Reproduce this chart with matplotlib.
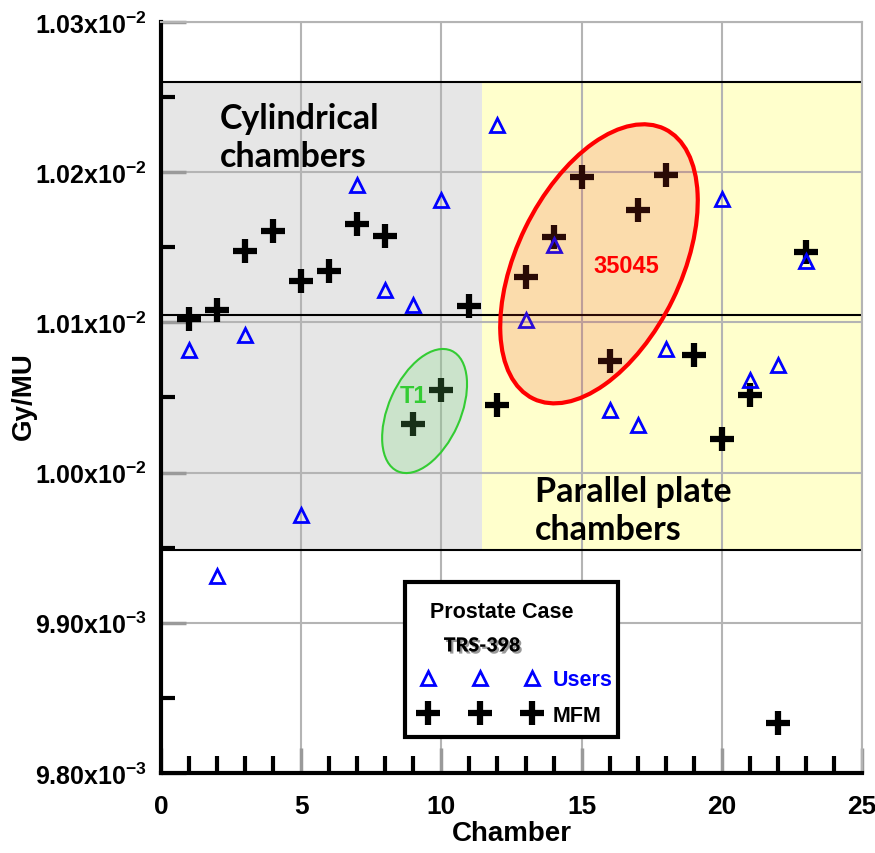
import matplotlib
matplotlib.use('Agg')
import matplotlib.pyplot as plt
from matplotlib.patches import Ellipse, Rectangle
from matplotlib.lines import Line2D
from matplotlib.transforms import Affine2D
import matplotlib.patheffects as pe

plt.rcParams['mathtext.default'] = 'regular'

# data
mfm_chamber = list(range(1, 24))
mfm_dose = [0.0101023, 0.0101080, 0.0101475, 0.0101609, 0.0101276, 0.0101342,
            0.0101655, 0.0101575, 0.0100324, 0.0100550, 0.0101109, 0.0100450,
            0.0101302, 0.0101569, 0.0101968, 0.0100743, 0.0101748, 0.0101981,
            0.0100783, 0.0100224, 0.0100517, 0.0098333, 0.0101469]

users_chamber = [1, 2, 3, 5, 7, 8, 9, 10, 12, 13, 14, 16, 17, 18, 20, 21, 22, 23]
users_dose = [0.0100816, 0.0099312, 0.0100916, 0.0099718, 0.0101915, 0.0101216,
              0.0101116, 0.0101815, 0.0102314, 0.0101016, 0.0101515, 0.0100417,
              0.0100317, 0.0100823, 0.0101822, 0.0100617, 0.0100716, 0.0101409]

ref_lines = [0.0102600, 0.0101050, 0.0099485]
cyl_split = 11.45

yticks = [0.0098, 0.0099, 0.0100, 0.0101, 0.0102, 0.0103]
ytick_labels = ['9.80x10$^{-3}$', '9.90x10$^{-3}$', '1.00x10$^{-2}$',
                '1.01x10$^{-2}$', '1.02x10$^{-2}$', '1.03x10$^{-2}$']
xticks = [0, 5, 10, 15, 20, 25]

arial = ['Liberation Sans', 'DejaVu Sans']
calib = ['Lato', 'DejaVu Sans']

fig = plt.figure(figsize=(8.75, 8.54), dpi=100)
ax = fig.add_axes([161/875, 80/854, 701/875, 751/854])
ax.set_xlim(0, 25)
ax.set_ylim(0.0098, 0.0103)

# shaded bands
ax.fill_between([0, cyl_split], ref_lines[2], ref_lines[0], color='#e6e6e6', lw=0, zorder=0)
ax.fill_between([cyl_split, 25], ref_lines[2], ref_lines[0], color='#ffffcc', lw=0, zorder=0)

ax.set_xticks(xticks)
ax.set_xticks(range(0, 26), minor=True)
ax.set_yticks(yticks)
ax.set_yticks([0.00985, 0.00995, 0.01005, 0.01015, 0.01025], minor=True)
ax.set_yticklabels(ytick_labels, fontfamily=arial, fontweight='bold', fontsize=18)
ax.set_xticklabels([str(t) for t in xticks], fontfamily=arial, fontweight='bold', fontsize=19)
ax.grid(True, which='major', color='#b4b4b4', lw=1.5, zorder=1)
ax.set_axisbelow(True)
ax.tick_params(which='major', direction='in', length=18, width=2.5, color='#9a9a9a')
ax.tick_params(axis='x', which='major', pad=15)
ax.tick_params(axis='y', which='major', pad=10)
ax.tick_params(which='minor', direction='in', length=10, width=3, color='black')
ax.tick_params(axis='x', which='minor', length=12)

for s in ['left', 'bottom']:
    ax.spines[s].set_linewidth(3)
    ax.spines[s].set_color('black')
for s in ['top', 'right']:
    ax.spines[s].set_linewidth(1.5)
    ax.spines[s].set_color('#b4b4b4')

for y in ref_lines:
    ax.axhline(y, color='black', lw=1.5, zorder=2)

ax.plot(mfm_chamber, mfm_dose, ls='none', marker='+', ms=17, mew=4.5,
        color='black', zorder=3)
ax.plot(users_chamber, users_dose, ls='none', marker='^', ms=10, mew=2,
        mfc='none', mec='#0000ff', zorder=4)

# ellipses drawn in reference-pixel units
sx = 701 / 25
sy = 751 / 0.0005
ptr = Affine2D().scale(1 / sx, 1 / sy) + ax.transData
ax.add_patch(Ellipse((15.62 * sx, 0.0101390 * sy), 300, 164, angle=64,
                     transform=ptr, facecolor=(0.92, 0.24, 0.12, 0.18),
                     edgecolor='#ff0000', lw=3, zorder=5))
ax.add_patch(Ellipse((9.40 * sx, 0.0100410 * sy), 132, 72, angle=66,
                     transform=ptr, facecolor=(0.43, 0.86, 0.43, 0.22),
                     edgecolor='#33cc33', lw=1.5, zorder=5))

ax.text(16.58, 0.0101382, '35045', color='#ff0000', fontfamily=arial,
        fontweight='bold', fontsize=17, ha='center', va='center', zorder=6)
ax.text(9.02, 0.0100510, 'T1', color='#33cc33', fontfamily=arial,
        fontweight='bold', fontsize=17, ha='center', va='center', zorder=6)

ax.text(2.1, 0.0102234, 'Cylindrical\nchambers', fontfamily=calib, fontweight='bold',
        fontsize=24.5, ha='left', va='center', linespacing=1.24, zorder=6)
ax.text(13.34, 0.0099750, 'Parallel plate\nchambers', fontfamily=calib, fontweight='bold',
        fontsize=24.5, ha='left', va='center', linespacing=1.24, zorder=6)

ax.set_xlabel('Chamber', fontfamily=arial, fontweight='bold', fontsize=20)
ax.set_ylabel('Gy/MU', fontfamily=arial, fontweight='bold', fontsize=20)
ax.xaxis.set_label_coords(0.5, -0.063)
ax.yaxis.set_label_coords(-0.177, 0.503)

# legend box
ax.add_patch(Rectangle((0.348, 0.048), 0.304, 0.2063, transform=ax.transAxes,
                       facecolor='white', edgecolor='black', lw=3, zorder=7,
                       clip_on=False))
ax.text(0.4864, 0.2157, 'Prostate Case', transform=ax.transAxes, fontfamily=arial,
        fontweight='bold', fontsize=15.5, ha='center', va='center', zorder=8)
ax.text(0.458, 0.1691, 'TRS-398', transform=ax.transAxes, fontfamily=calib,
        fontweight='heavy', fontsize=14, ha='center', va='center', zorder=8,
        path_effects=[pe.withSimplePatchShadow(offset=(1.5, -1.5), alpha=0.4)])
h_users = Line2D([], [], ls='none', marker='^', ms=10, mew=2, mfc='none', mec='#0000ff')
h_mfm = Line2D([], [], ls='none', marker='+', ms=17, mew=4.5, color='black')
leg = ax.legend([h_users, h_mfm], ['Users', 'MFM'], loc='upper left',
                bbox_to_anchor=(0.372, 0.138), frameon=False, numpoints=3,
                handlelength=5.4, handletextpad=0.7, borderpad=0, borderaxespad=0,
                labelspacing=0.67, prop={'family': arial, 'weight': 'bold', 'size': 15.5})
leg.get_texts()[0].set_color('#0000ff')
leg.set_zorder(9)

fig.savefig('out.png', dpi=100)
